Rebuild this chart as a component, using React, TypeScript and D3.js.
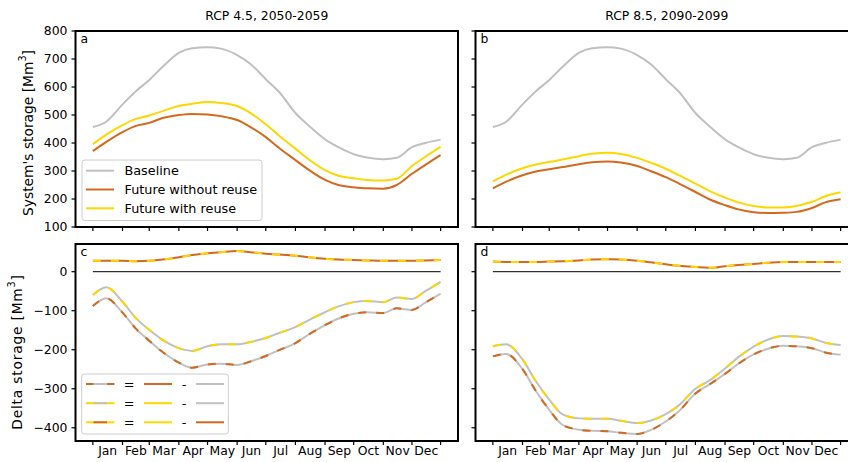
import React from 'react';
import * as d3 from 'd3';

// ---------- data ----------
const days = [1, 15, 32, 46, 60, 74, 91, 105, 121, 135, 152, 166, 182, 196, 213, 227, 244, 258, 274, 288, 305, 319, 335, 349, 365];

const baseline = [457, 476, 538, 585, 625, 672, 722, 738, 742, 737, 714, 682, 628, 582, 507, 462, 413, 385, 360, 348, 342, 347, 385, 400, 412];
const withoutReuse45 = [371, 404, 439, 461, 472, 489, 500, 504, 502, 496, 482, 457, 421, 382, 339, 304, 268, 250, 242, 238, 237, 250, 290, 322, 357];
const withReuse45 = [396, 430, 464, 486, 498, 514, 532, 540, 546, 543, 532, 507, 467, 426, 380, 341, 303, 283, 274, 268, 266, 272, 318, 351, 386];
const withoutReuse85 = [238, 262, 285, 298, 306, 314, 324, 331, 334, 330, 318, 300, 278, 255, 225, 200, 178, 163, 153, 150, 151, 154, 168, 188, 199];
const withReuse85 = [263, 287, 310, 323, 332, 341, 353, 362, 365, 361, 347, 330, 308, 284, 255, 230, 205, 188, 175, 170, 170, 175, 190, 210, 224];

const deltaWithWithout45 = [28, 28, 28, 27, 28, 31, 37, 43, 47, 50, 53, 50, 46, 44, 41, 37, 33, 31, 30, 29, 28, 28, 28, 29, 30];
const deltaWithBase45 = [-60, -40, -77, -119, -149, -175, -196, -203, -191, -186, -186, -180, -170, -157, -142, -124, -104, -89, -78, -75, -78, -66, -70, -50, -26];
const deltaWithoutBase45 = [-88, -68, -105, -146, -177, -206, -233, -246, -238, -236, -239, -230, -216, -201, -183, -161, -137, -120, -108, -104, -106, -94, -98, -79, -56];

const deltaWithWithout85 = [26, 25, 25, 25, 26, 27, 29, 31, 32, 31, 28, 24, 19, 15, 12, 10, 14, 17, 20, 23, 25, 25, 25, 25, 25];
const deltaWithBase85 = [-191, -186, -225, -281, -328, -366, -376, -377, -377, -382, -388, -382, -365, -342, -300, -280, -248, -219, -192, -175, -165, -166, -171, -182, -188];
const deltaWithoutBase85 = [-217, -211, -250, -306, -354, -393, -405, -408, -409, -413, -416, -406, -384, -357, -312, -290, -262, -236, -212, -198, -190, -191, -196, -207, -213];

const months = ['Jan', 'Feb', 'Mar', 'Apr', 'May', 'Jun', 'Jul', 'Aug', 'Sep', 'Oct', 'Nov', 'Dec'];
const monthStarts = [1, 32, 60, 91, 121, 152, 182, 213, 244, 274, 305, 335, 365];
const storageTicks = [100, 200, 300, 400, 500, 600, 700, 800];
const deltaTicks = [-400, -300, -200, -100, 0];
const titles = ['RCP 4.5, 2050-2059', 'RCP 8.5, 2090-2099'];
const legendTop = ['Baseline', 'Future without reuse', 'Future with reuse'];

// ---------- styles ----------
const GRAY = '#c0c0c0';
const ORANGE = '#d2691e';
const YELLOW = '#ffd700';
const FONT = 'DejaVu Sans, sans-serif';
const FS = 12.4;
const LFS = 12.8;
const YLFS = 13.8;

const panelLefts = [75.5, 475.5];
const panelW = 382.5;
const topRow = { y0: 31, y1: 227 };
const botRow = { y0: 244, y1: 441 };

const margin = 0.05 * 364;

function xScale(left: number) {
  return d3.scaleLinear().domain([1 - margin, 365 + margin]).range([left, left + panelW]);
}
const yTop = d3.scaleLinear().domain([100, 800]).range([topRow.y1, topRow.y0]);
const yBot = d3.scaleLinear().domain([-434, 71]).range([botRow.y1, botRow.y0]);

const fmt = (v: number) => (v < 0 ? '\u2212' + Math.abs(v) : String(v));

function path(x: d3.ScaleLinear<number, number>, y: d3.ScaleLinear<number, number>, vals: number[]) {
  const gen = d3
    .line<number>()
    .x((_, i) => x(days[i]))
    .y((v) => y(v))
    .curve(d3.curveMonotoneX);
  return gen(vals) || '';
}

const DASH = '8,10';

function Panel({ col, row }: { col: number; row: number }) {
  const left = panelLefts[col];
  const x = xScale(left);
  const y = row === 0 ? yTop : yBot;
  const box = row === 0 ? topRow : botRow;
  const ticks = row === 0 ? storageTicks : deltaTicks;
  const letter = ['a', 'b', 'c', 'd'][row * 2 + col];
  const els: React.ReactNode[] = [];

  if (row === 0) {
    const wo = col === 0 ? withoutReuse45 : withoutReuse85;
    const wi = col === 0 ? withReuse45 : withReuse85;
    els.push(<path key="b" d={path(x, y, baseline)} fill="none" stroke={GRAY} strokeWidth={2} />);
    els.push(<path key="o" d={path(x, y, wo)} fill="none" stroke={ORANGE} strokeWidth={2} />);
    els.push(<path key="y" d={path(x, y, wi)} fill="none" stroke={YELLOW} strokeWidth={2} />);
  } else {
    const ww = col === 0 ? deltaWithWithout45 : deltaWithWithout85;
    const wb = col === 0 ? deltaWithBase45 : deltaWithBase85;
    const ob = col === 0 ? deltaWithoutBase45 : deltaWithoutBase85;
    els.push(
      <line key="zero" x1={x(1)} x2={x(365)} y1={y(0)} y2={y(0)} stroke="#000" strokeWidth={1} />
    );
    const pairs: [number[], string, string][] = [
      [ww, ORANGE, YELLOW],
      [wb, GRAY, YELLOW],
      [ob, GRAY, ORANGE],
    ];
    pairs.forEach(([vals, base, dash], i) => {
      const d = path(x, y, vals);
      els.push(<path key={'s' + i} d={d} fill="none" stroke={base} strokeWidth={2} />);
      els.push(<path key={'d' + i} d={d} fill="none" stroke={dash} strokeWidth={2} strokeDasharray={DASH} />);
    });
  }

  const yTicks = ticks.map((t) => (
    <g key={'yt' + t}>
      <line x1={left - 4} x2={left} y1={y(t)} y2={y(t)} stroke="#000" strokeWidth={1.2} />
      {col === 0 && (
        <text x={left - 8} y={y(t)} dy="0.36em" textAnchor="end" fontSize={FS} fontFamily={FONT}>
          {fmt(t)}
        </text>
      )}
    </g>
  ));
  const xTicks = monthStarts.map((m) => (
    <line key={'xt' + m} x1={x(m)} x2={x(m)} y1={box.y1} y2={box.y1 + 4} stroke="#000" strokeWidth={1.2} />
  ));
  const xLabels =
    row === 1
      ? months.map((mName, i) => (
          <text
            key={'xl' + mName}
            x={(x(monthStarts[i]) + x(monthStarts[i + 1])) / 2}
            y={455}
            textAnchor="middle"
            fontSize={FS}
            fontFamily={FONT}
          >
            {mName}
          </text>
        ))
      : null;

  return (
    <g>
      {els}
      <rect x={left} y={box.y0} width={panelW} height={box.y1 - box.y0} fill="none" stroke="#000" strokeWidth={2} />
      {yTicks}
      {xTicks}
      {xLabels}
      <text x={left + 5} y={box.y0 + 12} fontSize={FS} fontFamily={FONT}>
        {letter}
      </text>
      {row === 0 && (
        <text x={left + panelW / 2} y={20} textAnchor="middle" fontSize={FS} fontFamily={FONT}>
          {titles[col]}
        </text>
      )}
    </g>
  );
}

function TopLegend() {
  const colors = [GRAY, ORANGE, YELLOW];
  const rowsY = [170.7, 189.5, 208.3];
  return (
    <g>
      <rect x={82} y={160} width={180} height={60.5} rx={3} fill="#fff" fillOpacity={0.8} stroke="#cccccc" strokeWidth={1} />
      {legendTop.map((label, i) => (
        <g key={label}>
          <line x1={86} x2={114} y1={rowsY[i]} y2={rowsY[i]} stroke={colors[i]} strokeWidth={2} />
          <text x={124.5} y={rowsY[i]} dy="0.36em" fontSize={LFS} fontFamily={FONT}>
            {label}
          </text>
        </g>
      ))}
    </g>
  );
}

function DeltaLegend() {
  const rowsY = [384, 403.2, 422.3];
  const rows: [string, string, string, string][] = [
    [ORANGE, GRAY, ORANGE, GRAY],
    [YELLOW, GRAY, YELLOW, GRAY],
    [YELLOW, ORANGE, YELLOW, ORANGE],
  ];
  return (
    <g>
      <rect x={81.7} y={374} width={146.6} height={60} rx={3} fill="#fff" fillOpacity={0.8} stroke="#cccccc" strokeWidth={1} />
      {rows.map(([a, b, c, d], i) => (
        <g key={i}>
          <line x1={86} x2={114.5} y1={rowsY[i]} y2={rowsY[i]} stroke={a} strokeWidth={2} />
          <line x1={93.5} x2={107} y1={rowsY[i]} y2={rowsY[i]} stroke={b} strokeWidth={2} />
          <text x={129} y={rowsY[i]} dy="0.36em" textAnchor="middle" fontSize={LFS} fontFamily={FONT}>
            =
          </text>
          <line x1={144} x2={172} y1={rowsY[i]} y2={rowsY[i]} stroke={c} strokeWidth={2} />
          <text x={184} y={rowsY[i]} dy="0.36em" textAnchor="middle" fontSize={LFS} fontFamily={FONT}>
            -
          </text>
          <line x1={196} x2={224} y1={rowsY[i]} y2={rowsY[i]} stroke={d} strokeWidth={2} />
        </g>
      ))}
    </g>
  );
}

export default function App() {
  return (
    <svg
      width={848}
      height={462}
      viewBox="0 0 848 462"
      style={{ position: 'absolute', left: 0, top: 0, background: '#fff' }}
    >
      <rect x={0} y={0} width={848} height={462} fill="#fff" />
      <Panel col={0} row={0} />
      <Panel col={1} row={0} />
      <Panel col={0} row={1} />
      <Panel col={1} row={1} />
      <TopLegend />
      <DeltaLegend />
      <text
        transform="translate(27.5,133) rotate(-90)"
        textAnchor="middle"
        dominantBaseline="central"
        fontSize={YLFS}
        fontFamily={FONT}
      >
        System's storage [Mm<tspan fontSize={YLFS * 0.7} dy={-5.5}>3</tspan>
        <tspan dy={5.5}>]</tspan>
      </text>
      <text
        transform="translate(16.7,352) rotate(-90)"
        textAnchor="middle"
        dominantBaseline="central"
        fontSize={YLFS}
        fontFamily={FONT}
        letterSpacing={0.8}
      >
        Delta storage [Mm<tspan fontSize={YLFS * 0.7} dy={-5.5}>3</tspan>
        <tspan dy={5.5}>]</tspan>
      </text>
    </svg>
  );
}
